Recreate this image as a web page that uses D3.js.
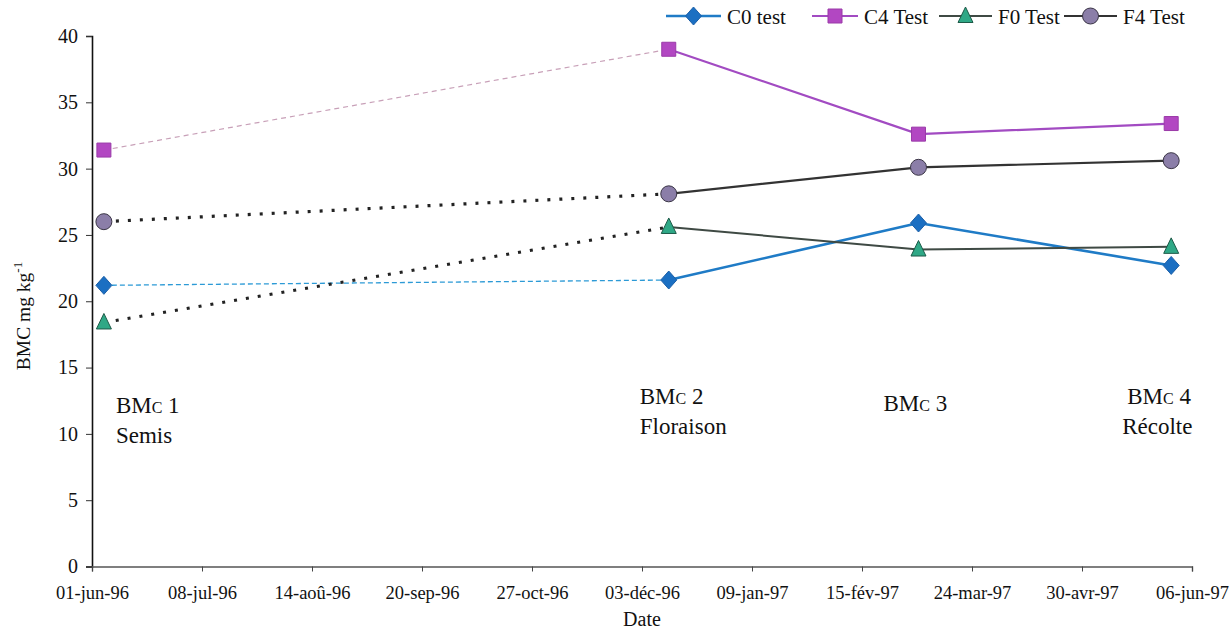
<!DOCTYPE html>
<html><head><meta charset="utf-8">
<script src="https://cdn.jsdelivr.net/npm/d3@7"></script>
<style>
body{margin:0;background:#fff;}
text{font-family:"Liberation Serif","Times New Roman","DejaVu Serif",serif;fill:#111;}
</style></head>
<body><svg id="c" width="1231" height="630"></svg>
<script>
// ---- data ----
const sampleDates = ["1996-06-05","1996-12-12","1997-03-06","1997-05-30"];
const seriesNames = ["C0 test","C4 Test","F0 Test","F4 Test"];
const c0Values = [21.2, 21.6, 25.9, 22.7];
const c4Values = [31.4, 39.0, 32.6, 33.4];
const f0Values = [18.4, 25.6, 23.9, 24.1];
const f4Values = [26.0, 28.1, 30.1, 30.6];
const xTickLabels = ["01-jun-96","08-jul-96","14-aoû-96","20-sep-96","27-oct-96","03-déc-96","09-jan-97","15-fév-97","24-mar-97","30-avr-97","06-jun-97"];
const yTicks = [0,5,10,15,20,25,30,35,40];
const stageLabels = [["1","Semis"],["2","Floraison"],["3",""],["4","Récolte"]];

// ---- setup ----
const FONT = '"Liberation Serif","Times New Roman","DejaVu Serif",serif';
const svg = d3.select("#c");
const parse = d3.utcParse("%Y-%m-%d");
const start = parse("1996-06-01");
const tickDates = xTickLabels.map((d,i)=>d3.utcDay.offset(start, i*37));
const x = d3.scaleUtc().domain([tickDates[0], tickDates[tickDates.length-1]]).range([92, 1192]);
const y = d3.scaleLinear().domain([0,40]).range([566.5, 36]);

// axes
const yAxis = d3.axisLeft(y).tickValues(yTicks).tickSize(6).tickPadding(8);
const gy = svg.append("g").attr("transform","translate(92,0)").call(yAxis);
gy.select(".domain").attr("stroke","#111").attr("stroke-width",1.6);
gy.selectAll(".tick line").attr("stroke","#333");
gy.selectAll(".tick text").style("font-size","20px").style("font-family",FONT);

const xAxis = d3.axisBottom(x).tickValues(tickDates).tickFormat((d,i)=>xTickLabels[i]).tickSize(5).tickPadding(14);
const gx = svg.append("g").attr("transform","translate(0,566.5)").call(xAxis);
gx.select(".domain").attr("stroke","#555").attr("stroke-width",1.4);
gx.selectAll(".tick line").attr("stroke","#444");
gx.selectAll(".tick text").style("font-size","18.5px").style("font-family",FONT);

svg.append("text").attr("x",(x.range()[0]+x.range()[1])/2).attr("y",626).attr("text-anchor","middle")
  .style("font-size","20px").text("Date");

const yl = svg.append("text").attr("transform","translate(30,316) rotate(-90)").attr("text-anchor","middle").style("font-size","19.5px");
yl.append("tspan").text("BMC mg kg");
yl.append("tspan").attr("dy",-8).style("font-size","13px").text("-1");

// custom symbols
const diamondSym = {draw(ctx,size){const w=8,h=9;ctx.moveTo(0,-h);ctx.lineTo(w,0);ctx.lineTo(0,h);ctx.lineTo(-w,0);ctx.closePath();}};
const squareSym = {draw(ctx,size){const s=7;ctx.moveTo(-s,-s);ctx.lineTo(s,-s);ctx.lineTo(s,s);ctx.lineTo(-s,s);ctx.closePath();}};
const triSym = {draw(ctx,size){ctx.moveTo(0,-9);ctx.lineTo(7.5,6.5);ctx.lineTo(-7.5,6.5);ctx.closePath();}};
const circSym = {draw(ctx,size){ctx.moveTo(8,0);ctx.arc(0,0,8,0,2*Math.PI);}};

// series
const series = [
  {name:seriesNames[0], vals:c0Values, first:{stroke:"#2c9ad6",w:1.3,dash:"5,3"}, rest:{stroke:"#1f7bc6",w:2.6}, sym:diamondSym, fill:"#1b6fc2", mstroke:"#1b5fa8"},
  {name:seriesNames[1], vals:c4Values, first:{stroke:"#c8a0b8",w:1.2,dash:"5,4"}, rest:{stroke:"#a24bc2",w:2.2}, sym:squareSym, fill:"#b247c2", mstroke:"#9a3aa8"},
  {name:seriesNames[2], vals:f0Values, first:{stroke:"#222",w:3.2,dash:"3,9"}, rest:{stroke:"#3f4a44",w:2}, sym:triSym, fill:"#2fa886", mstroke:"#1d5a48"},
  {name:seriesNames[3], vals:f4Values, first:{stroke:"#222",w:3.2,dash:"3,9"}, rest:{stroke:"#333",w:2.2}, sym:circSym, fill:"#8b7ea8", mstroke:"#3a3545"}
];
const line = d3.line().x(d=>x(d.date)).y(d=>y(d.v));

series.forEach(s=>{
  const pts = s.vals.map((v,i)=>({date:parse(sampleDates[i]), v}));
  svg.append("path").datum(pts.slice(0,2)).attr("d",line).attr("fill","none")
    .attr("stroke",s.first.stroke).attr("stroke-width",s.first.w).attr("stroke-dasharray",s.first.dash);
  svg.append("path").datum(pts.slice(1)).attr("d",line).attr("fill","none")
    .attr("stroke",s.rest.stroke).attr("stroke-width",s.rest.w).attr("stroke-linejoin","round");
  s.pts = pts;
});
series.forEach(s=>{
  svg.selectAll(null).data(s.pts).enter().append("path")
    .attr("transform",d=>`translate(${x(d.date)},${y(d.v)})`)
    .attr("d",d3.symbol().type(s.sym))
    .attr("fill",s.fill).attr("stroke",s.mstroke).attr("stroke-width",1);
});

// stage annotations
const offs = [12,-29,-35,-44];
const ys = [413,404,411,404];
stageLabels.forEach((st,i)=>{
  const xp = x(parse(sampleDates[i])) + offs[i];
  const t = svg.append("text").attr("x",xp).attr("y",ys[i]).style("font-size","23px");
  t.append("tspan").text("BM");
  t.append("tspan").style("font-size","16px").text("C");
  t.append("tspan").text(" "+st[0]);
  if(st[1]) svg.append("text").attr("x", xp + (i===3?-5:0)).attr("y",ys[i]+30).style("font-size","23px").text(st[1]);
});

// legend
const legX = [666, 812, 939, 1064];
const legW = [55, 46, 53, 53];
const lg = svg.append("g");
series.forEach((s,i)=>{
  const x0 = legX[i], x1 = x0+legW[i], cy = 16;
  lg.append("line").attr("x1",x0).attr("x2",x1).attr("y1",cy).attr("y2",cy)
    .attr("stroke",s.rest.stroke).attr("stroke-width",s.rest.w);
  lg.append("path").attr("transform",`translate(${(x0+x1)/2},${cy})`)
    .attr("d",d3.symbol().type(s.sym))
    .attr("fill",s.fill).attr("stroke",s.mstroke).attr("stroke-width",1);
  lg.append("text").attr("x",x1+6).attr("y",cy+8).style("font-size","21px").text(s.name);
});
</script></body></html>
